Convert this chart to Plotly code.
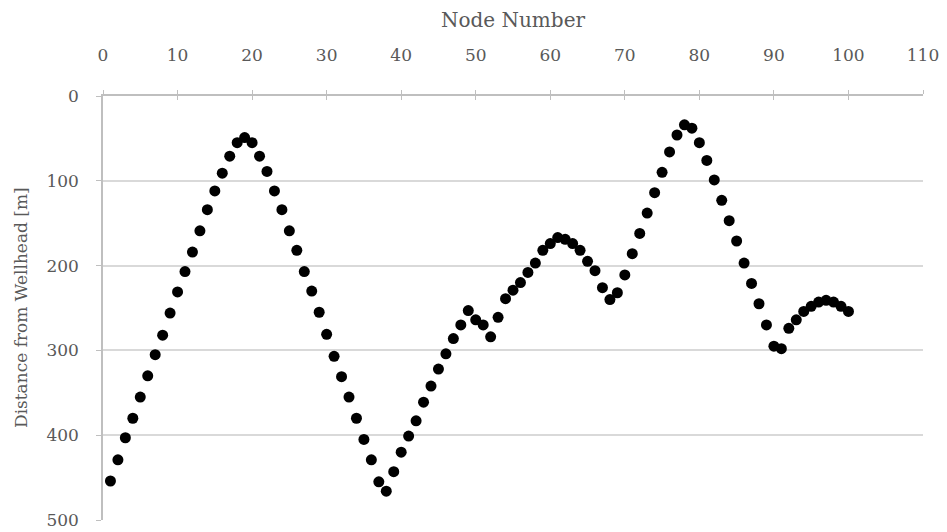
'''
    Scatter chart of the distance from the wellhead for each node.
'''
import plotly.graph_objects as go

FONT = "DejaVu Serif"
TEXT_COLOR = "#595959"
GRID_COLOR = "#d9d9d9"
AXIS_COLOR = "#bfbfbf"

node_numbers = list(range(1, 101))

distance_m = [
    454, 429, 403, 380, 355, 330, 305, 282, 256, 231,
    207, 184, 159, 134, 112, 91, 71, 55, 49, 55,
    71, 89, 112, 134, 159, 182, 207, 230, 255, 281,
    307, 331, 355, 380, 405, 429, 455, 466, 443, 420,
    401, 383, 361, 342, 322, 304, 286, 270, 253, 264,
    270, 284, 261, 239, 229, 220, 208, 197, 182, 174,
    167, 169, 174, 182, 195, 206, 226, 240, 232, 211,
    186, 162, 138, 114, 90, 66, 46, 34, 38, 55,
    76, 99, 123, 147, 171, 197, 221, 245, 270, 295,
    298, 274, 264, 254, 248, 243, 241, 243, 248, 254,
]

x_ticks = list(range(0, 111, 10))
y_ticks = list(range(0, 501, 100))


fig = go.Figure()

fig.add_trace(go.Scatter(
    x=node_numbers,
    y=distance_m,
    mode="markers",
    marker=dict(color="black", size=11),
    showlegend=False,
))

# invisible trace so the second x axis is drawn (ticks crossing the top line)
fig.add_trace(go.Scatter(
    x=[None], y=[None], xaxis="x2", showlegend=False, hoverinfo="skip",
))

# y title as an annotation so it sits centred on the plot area
fig.add_annotation(
    text="Distance from Wellhead [m]",
    xref="paper", yref="paper",
    x=0, y=0.5,
    xanchor="center", yanchor="middle",
    xshift=-82,
    textangle=-90,
    showarrow=False,
    font=dict(size=17),
)

# the page body adds an 8px margin, so the figure is made 8px smaller
fig.update_layout(
    width=939,
    height=524,
    margin=dict(l=95, r=24, t=88, b=12),
    plot_bgcolor="white",
    paper_bgcolor="white",
    font=dict(family=FONT, color=TEXT_COLOR, size=17),
    xaxis=dict(
        side="top",
        range=[0, 110],
        tickvals=x_ticks,
        showgrid=False,
        zeroline=False,
        showline=True,
        linecolor=AXIS_COLOR,
        linewidth=1.5,
        ticks="outside",
        ticklen=4,
        tickcolor=AXIS_COLOR,
        ticklabelstandoff=22,
        automargin=False,
        title=dict(text="Node Number", font=dict(size=20), standoff=12),
    ),
    xaxis2=dict(
        overlaying="x",
        side="top",
        range=[0, 110],
        tickvals=x_ticks,
        showticklabels=False,
        showgrid=False,
        zeroline=False,
        ticks="inside",
        ticklen=4,
        tickcolor=AXIS_COLOR,
        automargin=False,
    ),
    yaxis=dict(
        range=[500, 0],
        tickvals=y_ticks,
        showgrid=True,
        gridcolor=GRID_COLOR,
        gridwidth=1.5,
        zeroline=False,
        showline=True,
        linecolor=AXIS_COLOR,
        linewidth=1.5,
        ticks="outside",
        ticklen=5,
        tickcolor=AXIS_COLOR,
        ticklabelstandoff=14,
        automargin=False,
    ),
)

fig.write_html("out.html")
